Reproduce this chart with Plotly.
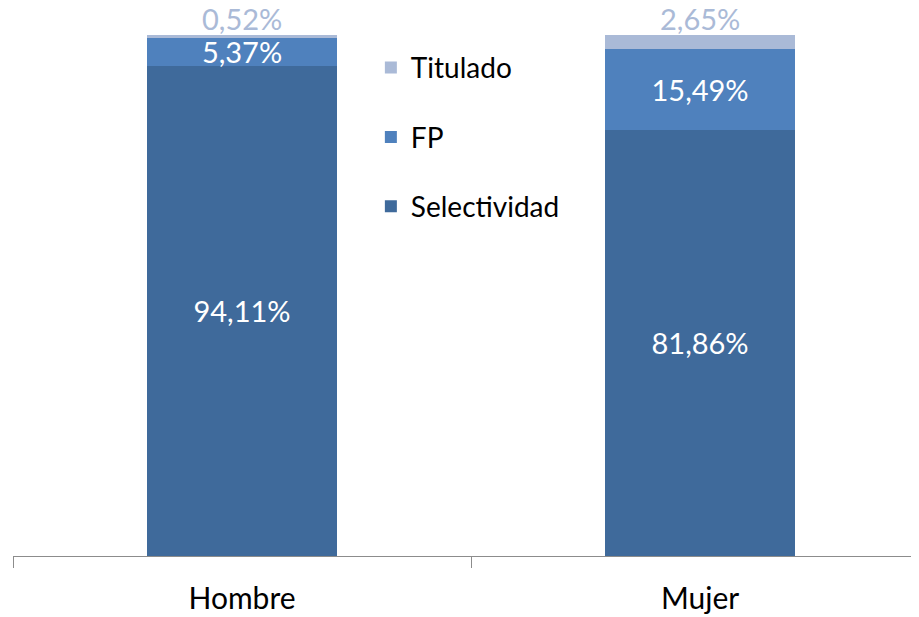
import plotly.graph_objects as go

categories = ["Hombre", "Mujer"]
selectividad = [94.11, 81.86]
fp = [5.37, 15.49]
titulado = [0.52, 2.65]

def fmt(v):
    return f"{v:.2f}".replace(".", ",") + "%"

FONT = "Lato, Carlito, Calibri, sans-serif"
FS = 29
C_SEL = "#3F6A9B"
C_FP = "#4F81BD"
C_TIT = "#AABAD7"

fig = go.Figure()
fig.add_trace(go.Bar(
    name="Selectividad", x=categories, y=selectividad,
    marker=dict(color=C_SEL, line=dict(width=0)),
    text=[fmt(v) for v in selectividad], textposition="inside",
    insidetextanchor="middle", constraintext="none",
    textfont=dict(color="white", size=FS, family=FONT),
    width=0.415, legendgroup="s", legendrank=3,
))
fig.add_trace(go.Bar(
    name="FP", x=categories, y=fp,
    marker=dict(color=C_FP, line=dict(width=0)),
    text=[fmt(v) for v in fp], textposition="inside",
    insidetextanchor="middle", constraintext="none",
    textfont=dict(color="white", size=FS, family=FONT),
    width=0.415, legendgroup="f", legendrank=2,
))
fig.add_trace(go.Bar(
    name="Titulado", x=categories, y=titulado,
    marker=dict(color=C_TIT, line=dict(width=0)),
    textposition="none",
    width=0.415, legendgroup="t", legendrank=1,
))

# Titulado labels sit just above each stack
for i, cat in enumerate(categories):
    total = selectividad[i] + fp[i] + titulado[i]
    fig.add_annotation(
        x=cat, y=total, xref="x", yref="y",
        text=fmt(titulado[i]), showarrow=False,
        yanchor="bottom", yshift=-3,
        font=dict(color=C_TIT, size=FS, family=FONT),
    )

fig.update_layout(
    width=911, height=609,
    barmode="stack",
    paper_bgcolor="white", plot_bgcolor="white",
    margin=dict(l=5, r=0, t=27, b=61, autoexpand=False),
    font=dict(family=FONT, size=FS, color="black"),
    showlegend=True,
    legend=dict(
        x=0.395, y=0.985, xanchor="left", yanchor="top",
        traceorder="grouped", tracegroupgap=30,
        font=dict(size=FS - 1, family=FONT, color="black"),
        bgcolor="rgba(0,0,0,0)",
        itemwidth=30,
    ),
    xaxis=dict(
        type="category", range=[-0.5, 1.478], automargin=False,
        showline=True, linecolor="#8C8C8C", linewidth=1,
        ticks="outside", tickson="boundaries", ticklen=11, tickcolor="#8C8C8C",
        ticklabelstandoff=16,
        tickfont=dict(size=30, family=FONT, color="black"),
        showgrid=False, zeroline=False,
    ),
    yaxis=dict(
        range=[0, 100], visible=False, showgrid=False, zeroline=False,
        automargin=False,
    ),
)

fig.write_html("out.html")
